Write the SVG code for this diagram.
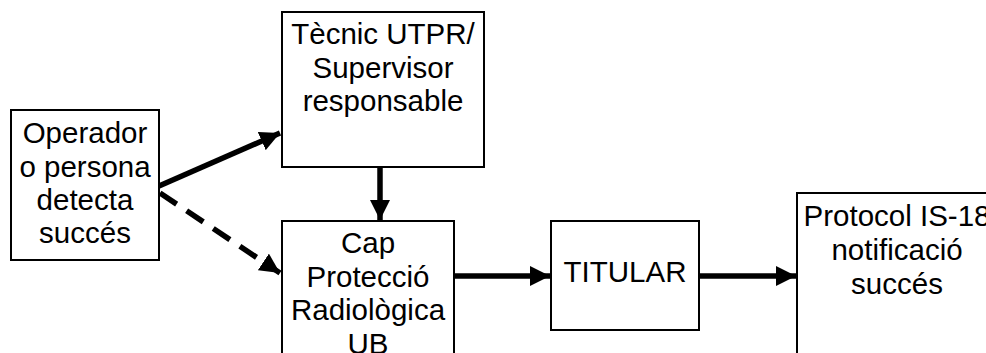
<svg xmlns="http://www.w3.org/2000/svg" width="986" height="353" viewBox="0 0 986 353">
<style>
.box{fill:#fff;stroke:#000;stroke-width:2}
text{font-family:"Liberation Sans",Arial,sans-serif;font-size:29.5px;fill:#000;text-anchor:middle}
.c{fill:none;stroke:#000;stroke-width:5.5}
.d{stroke-dasharray:20 12}
</style>
<defs>
<marker id="ah" markerUnits="userSpaceOnUse" markerWidth="22" markerHeight="20" refX="20" refY="10" orient="auto">
<path d="M0,0 L20,10 L0,20 Z" fill="#000"/>
</marker>
</defs>
<g id="connectors">
<line class="c" x1="159" y1="186" x2="280" y2="133" marker-end="url(#ah)"/>
<line class="c d" x1="160" y1="193" x2="280" y2="273" marker-end="url(#ah)"/>
<line class="c" x1="380" y1="168" x2="380" y2="220" marker-end="url(#ah)"/>
<line class="c" x1="455" y1="276" x2="550" y2="276" marker-end="url(#ah)"/>
<line class="c" x1="700" y1="276" x2="796" y2="276" marker-end="url(#ah)"/>
</g>
<g id="operador">
<rect class="box" x="11" y="110" width="148" height="150"/>
<text x="85" y="143">Operador</text>
<text x="85" y="177">o persona</text>
<text x="85" y="210">detecta</text>
<text x="85" y="243">succés</text>
</g>
<g id="tecnic">
<rect class="box" x="282" y="12" width="202" height="155"/>
<text x="383" y="44">Tècnic UTPR/</text>
<text x="383" y="78">Supervisor</text>
<text x="383" y="111">responsable</text>
</g>
<g id="cap">
<rect class="box" x="282" y="221" width="172" height="150"/>
<text x="368" y="253">Cap</text>
<text x="368" y="287">Protecció</text>
<text x="368" y="320">Radiològica</text>
<text x="368" y="354">UB</text>
</g>
<g id="titular">
<rect class="box" x="551" y="221" width="148" height="109"/>
<text x="625" y="282">TITULAR</text>
</g>
<g id="protocol">
<rect class="box" x="797" y="193" width="220" height="180"/>
<text x="897" y="226">Protocol IS-18</text>
<text x="897" y="260">notificació</text>
<text x="897" y="294">succés</text>
</g>
</svg>
